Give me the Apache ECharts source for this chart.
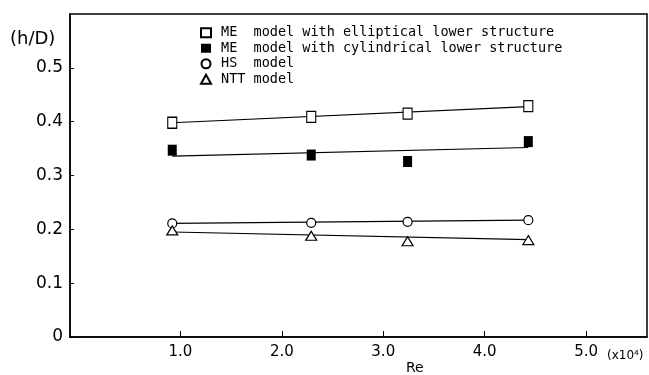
<!DOCTYPE html>
<html>
<head>
<meta charset="utf-8">
<script src="https://cdn.jsdelivr.net/npm/echarts@6/dist/echarts.min.js"></script>
<style>
  html, body { margin: 0; padding: 0; background: #fff; }
  #chart { width: 649px; height: 375px; }
</style>
</head>
<body>
<div id="chart"></div>
<script>
// Re (x10^4) of the four measuring points
const re = [0.92, 2.29, 3.24, 4.43];

const meElliptical = [0.398, 0.409, 0.415, 0.429];
const meCylindrical = [0.347, 0.338, 0.326, 0.363];
const hsModel = [0.211, 0.212, 0.214, 0.217];
const nttModel = [0.198, 0.188, 0.178, 0.180];

// straight fitted lines, value at first and last Re
const fitElliptical = [0.398, 0.428];
const fitCylindrical = [0.336, 0.352];
const fitHs = [0.211, 0.217];
const fitNtt = [0.195, 0.181];

const xTicks = [1, 2, 3, 4, 5];
const yTicks = [0, 0.1, 0.2, 0.3, 0.4, 0.5];

const names = [
  'ME  model with elliptical lower structure',
  'ME  model with cylindrical lower structure',
  'HS  model',
  'NTT model'
];

function pts(vals) {
  return re.map((x, i) => [x, vals[i]]);
}
function fit(ends) {
  return [[re[0], ends[0]], [re[re.length - 1], ends[1]]];
}

const open = { color: '#fff', borderColor: '#000', borderWidth: 1.2, opacity: 1 };
const solid = { color: '#000', borderColor: '#000', borderWidth: 0, opacity: 1 };

function fitLine(ends) {
  return {
    type: 'line',
    data: fit(ends),
    showSymbol: false,
    silent: true,
    z: 1,
    lineStyle: { color: '#000', width: 1.2 },
    animation: false
  };
}

const chart = echarts.init(document.getElementById('chart'));
chart.setOption({
  animation: false,
  backgroundColor: '#fff',
  textStyle: { fontFamily: 'DejaVu Sans' },
  title: [
    { text: '(h/D)', left: 5, top: 25, textStyle: { fontSize: 18, fontWeight: 'normal', color: '#000', fontFamily: 'DejaVu Sans' } },
    { text: 'Re', left: 401, top: 356, textStyle: { fontSize: 14, fontWeight: 'normal', color: '#000', fontFamily: 'DejaVu Sans' } },
    { text: '(x10\u2074)', left: 602, top: 345, textStyle: { fontSize: 12, fontWeight: 'normal', color: '#000', fontFamily: 'DejaVu Sans' } }
  ],
  grid: {
    left: 70, right: 2, top: 14, bottom: 38,
    show: true, borderColor: '#000', borderWidth: 1.5
  },
  legend: {
    data: names,
    orient: 'vertical',
    left: 200,
    top: 25,
    padding: 0,
    itemGap: 0,
    itemWidth: 10,
    itemHeight: 9,
    selectedMode: false,
    textStyle: {
      fontFamily: 'DejaVu Sans Mono',
      fontSize: 13.5,
      lineHeight: 15.5,
      color: '#000',
      padding: [0, 0, 0, 5]
    }
  },
  xAxis: {
    type: 'value',
    min: -0.088,
    max: 5.6,
    axisLine: { lineStyle: { color: '#000', width: 1.5 } },
    splitLine: { show: false },
    axisTick: { inside: true, length: 6, customValues: xTicks, lineStyle: { color: '#000' } },
    axisLabel: {
      customValues: xTicks,
      margin: 8,
      fontSize: 15,
      color: '#000',
      formatter: v => v.toFixed(1)
    }
  },
  yAxis: {
    type: 'value',
    min: 0,
    max: 0.6,
    interval: 0.1,
    axisLine: { onZero: false, lineStyle: { color: '#000', width: 1.5 } },
    splitLine: { show: false },
    axisTick: { inside: true, length: 4, customValues: yTicks, lineStyle: { color: '#000' } },
    axisLabel: {
      customValues: yTicks,
      margin: 7,
      fontSize: 17,
      color: '#000',
      formatter: v => (v === 0 ? '0' : v.toFixed(1))
    }
  },
  series: [
    fitLine(fitElliptical),
    fitLine(fitCylindrical),
    fitLine(fitHs),
    fitLine(fitNtt),
    { name: names[0], type: 'scatter', symbol: 'rect', symbolSize: [9, 11], data: pts(meElliptical), itemStyle: open, z: 3 },
    { name: names[1], type: 'scatter', symbol: 'rect', symbolSize: [9, 11], data: pts(meCylindrical), itemStyle: solid, z: 3 },
    { name: names[2], type: 'scatter', symbol: 'circle', symbolSize: 9, data: pts(hsModel), itemStyle: open, z: 3 },
    { name: names[3], type: 'scatter', symbol: 'triangle', symbolSize: [11, 9], data: pts(nttModel), itemStyle: open, z: 3 }
  ]
});
</script>
</body>
</html>
